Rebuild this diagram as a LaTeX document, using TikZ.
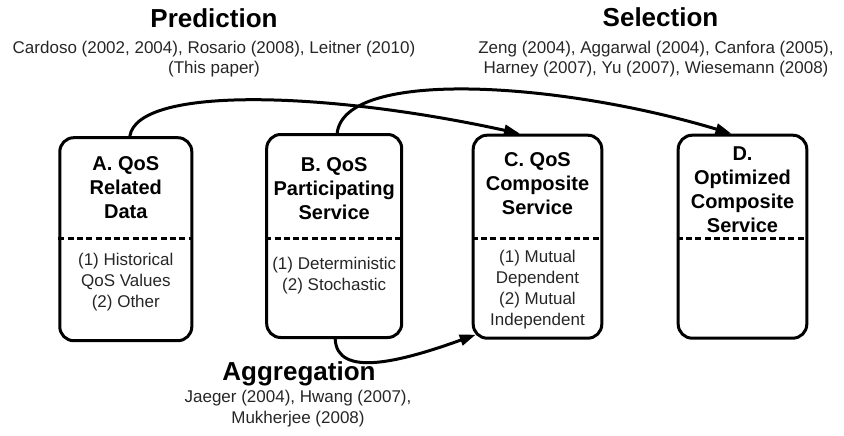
\documentclass[tikz,border=0pt]{standalone}
\usepackage{fontspec}
\setmainfont{Liberation Sans}
\usetikzlibrary{arrows.meta}
\tikzset{
  qbox/.style={draw=black, line width=3pt, rounded corners=14pt, minimum width=#1, minimum height=203pt, inner sep=0pt},
  qbox/.default=132pt,
  sepline/.style={line width=3pt, dash pattern=on 6pt off 3.3pt},
  flow/.style={line width=3pt, -{Triangle[length=16pt,width=11pt]}},
  bigtitle/.style={font=\bfseries\fontsize{26}{30}\selectfont, anchor=base},
  cites/.style={font=\fontsize{17}{20.5}\selectfont, align=center, anchor=base, inner sep=0pt, text=black!85},
  boxtitle/.style={font=\bfseries\fontsize{20}{24}\selectfont, align=center, anchor=base, inner sep=0pt},
  items/.style={font=\fontsize{17}{21}\selectfont, align=center, anchor=base, inner sep=0pt, text=black!85}
}
\begin{document}
\begin{tikzpicture}[x=1pt,y=-1pt]
\useasboundingbox (0,0) rectangle (844,436);
% boxes
\node[qbox=132pt] (A) at (125.8,239.2) {};
\node[qbox=135pt] (B) at (334.2,236) {};
\node[qbox=128.6pt] (C) at (537.5,236.7) {};
\node[qbox=128.6pt] (D) at (742.5,236.7) {};
% dashed separators
\foreach \b in {A,B,C,D}{
  \draw[sepline] (\b.west |- 0,238.3) -- (\b.east |- 0,238.3);
}
% box titles (y = baseline of last line)
\node[boxtitle] (At) at (125.8,218) {A. QoS\\Related\\Data};
\node[boxtitle] (Bt) at (334.2,219) {B. QoS\\Participating\\Service};
\node[boxtitle] (Ct) at (537.5,214) {C. QoS\\Composite\\Service};
\node[boxtitle] (Dt) at (742.5,232) {D.\\Optimized\\Composite\\Service};
% items
\node[items] (Ai) at (125.8,307) {(1) Historical\\QoS Values\\(2) Other};
\node[items] (Bi) at (334.2,290) {(1) Deterministic\\(2) Stochastic};
\node[items] (Ci) at (537.5,325) {(1) Mutual\\Dependent\\(2) Mutual\\Independent};
% phase titles
\node[bigtitle] (P) at (214,28) {Prediction};
\node[cites] (Pc) at (214,74) {Cardoso (2002, 2004), Rosario (2008), Leitner (2010)\\(This paper)};
\node[bigtitle] (S) at (660.5,27) {Selection};
\node[cites] (Sc) at (656,74) {Zeng (2004), Aggarwal (2004), Canfora (2005),\\Harney (2007), Yu (2007), Wiesemann (2008)};
\node[bigtitle] (G) at (299,380) {Aggregation};
\node[cites] (Gc) at (298,423) {Jaeger (2004), Hwang (2007),\\Mukherjee (2008)};
% connectors
\draw[flow] ([xshift=4pt]A.north) .. controls (138,85) and (330,92) .. ([xshift=-17.5pt]C.north);
\draw[flow] ([xshift=3pt]B.north) .. controls (345,68) and (560,82) .. ([xshift=-11pt]D.north);
\draw[flow] ([xshift=1pt]B.south) .. controls (337,378) and (400,362) .. ([xshift=4pt,yshift=5pt]C.south west);
\end{tikzpicture}
\end{document}
